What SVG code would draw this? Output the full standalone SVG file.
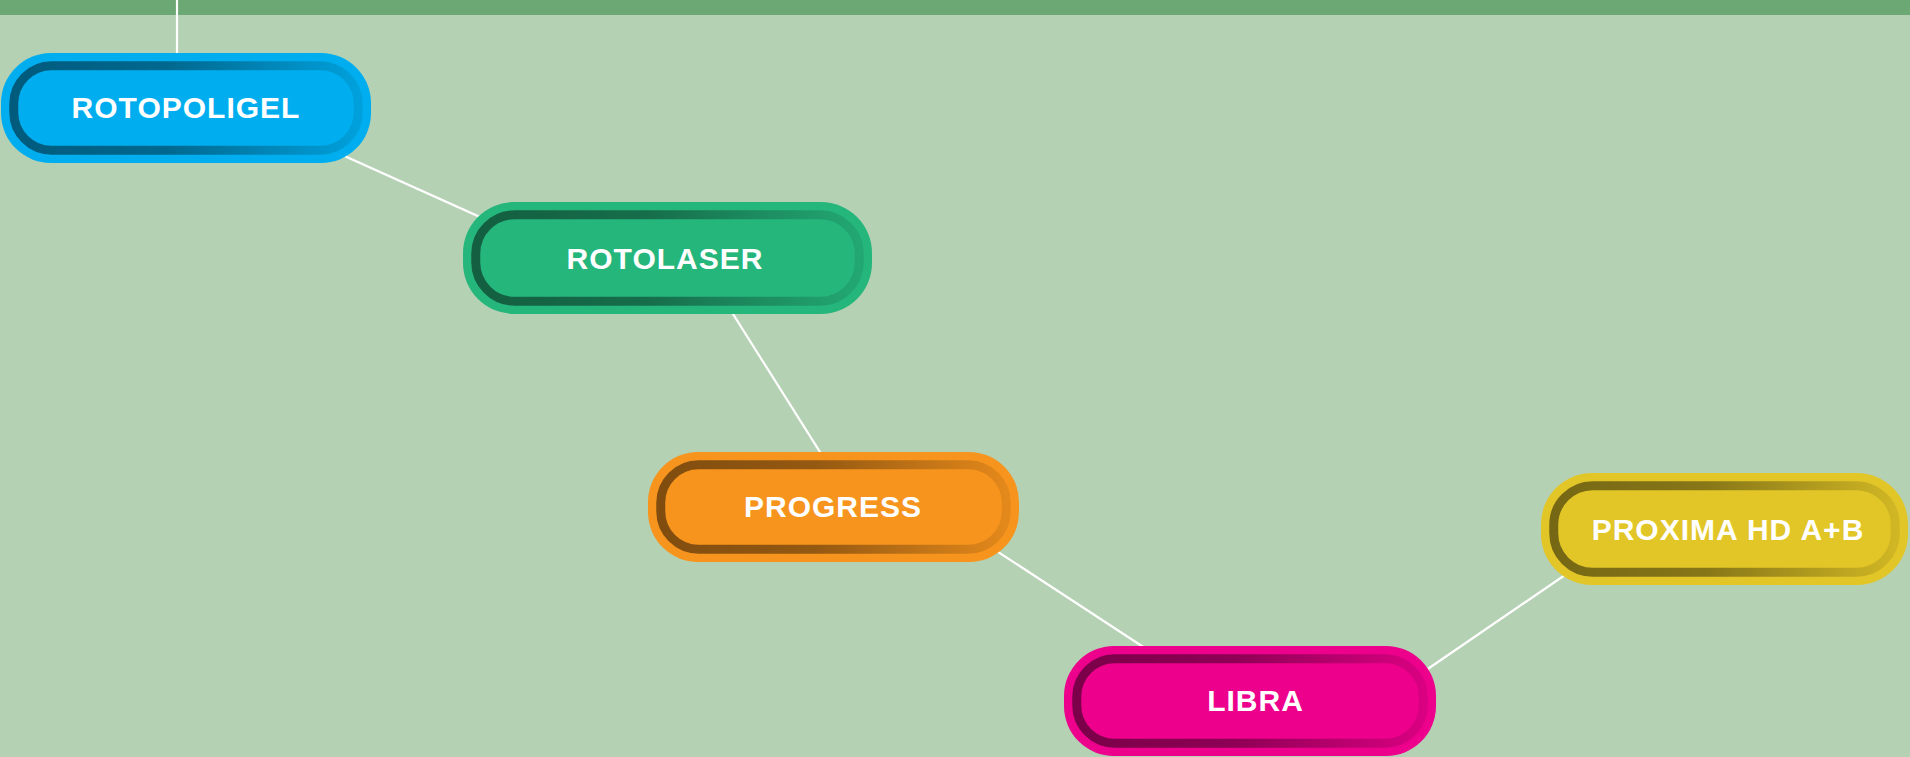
<svg xmlns="http://www.w3.org/2000/svg" width="1910" height="757" viewBox="0 0 1910 757">
<defs>
<linearGradient id="ringGrad" x1="0" y1="0" x2="1" y2="0">
<stop offset="0" stop-color="#000" stop-opacity="0.48"/>
<stop offset="0.45" stop-color="#000" stop-opacity="0.4"/>
<stop offset="1" stop-color="#000" stop-opacity="0.08"/>
</linearGradient>
<style>
.bg{fill:#b5d1b4}
.band{fill:#6ca873}
.conn line{stroke:#ffffff;stroke-width:2.2;stroke-linecap:butt}
.ring{fill:none;stroke:url(#ringGrad);stroke-width:9}
.label{fill:#ffffff;font-family:"Liberation Sans",Arial,sans-serif;font-weight:bold;font-size:30px;letter-spacing:1px;text-anchor:middle}
.blue .body{fill:#00aeef}
.green .body{fill:#25b67c}
.orange .body{fill:#f7941d}
.magenta .body{fill:#ec008c}
.yellow .body{fill:#e2c627}
</style>
</defs>
<rect class="bg" x="0" y="0" width="1910" height="757"/>
<rect class="band" x="0" y="0" width="1910" height="15"/>
<g id="connectors" class="conn">
<line x1="177" y1="0" x2="177" y2="80"/>
<line x1="300" y1="136" x2="520" y2="235"/>
<line x1="700" y1="261.7" x2="850" y2="499.6"/>
<line x1="960" y1="527" x2="1180" y2="671"/>
<line x1="1400" y1="688" x2="1600" y2="551"/>
</g>
<g id="node-rotopoligel" class="node blue">
<rect class="body" x="1" y="53" width="370" height="110" rx="50"/>
<rect class="ring" x="13.75" y="65.75" width="344.5" height="84.5" rx="38"/>
<text class="label" x="186" y="118">ROTOPOLIGEL</text>
</g>
<g id="node-rotolaser" class="node green">
<rect class="body" x="463" y="202" width="409" height="112" rx="51"/>
<rect class="ring" x="475.75" y="214.75" width="383.5" height="86.5" rx="39"/>
<text class="label" x="665" y="269">ROTOLASER</text>
</g>
<g id="node-progress" class="node orange">
<rect class="body" x="648" y="452" width="371" height="110" rx="50"/>
<rect class="ring" x="660.75" y="464.75" width="345.5" height="84.5" rx="38"/>
<text class="label" x="833" y="517">PROGRESS</text>
</g>
<g id="node-libra" class="node magenta">
<rect class="body" x="1064" y="646" width="372" height="110" rx="50"/>
<rect class="ring" x="1076.75" y="658.75" width="346.5" height="84.5" rx="38"/>
<text class="label" x="1255.5" y="711">LIBRA</text>
</g>
<g id="node-proxima" class="node yellow">
<rect class="body" x="1541" y="473" width="367" height="112" rx="51"/>
<rect class="ring" x="1553.75" y="485.75" width="341.5" height="86.5" rx="39"/>
<text class="label" x="1728" y="540">PROXIMA HD A+B</text>
</g>
</svg>
